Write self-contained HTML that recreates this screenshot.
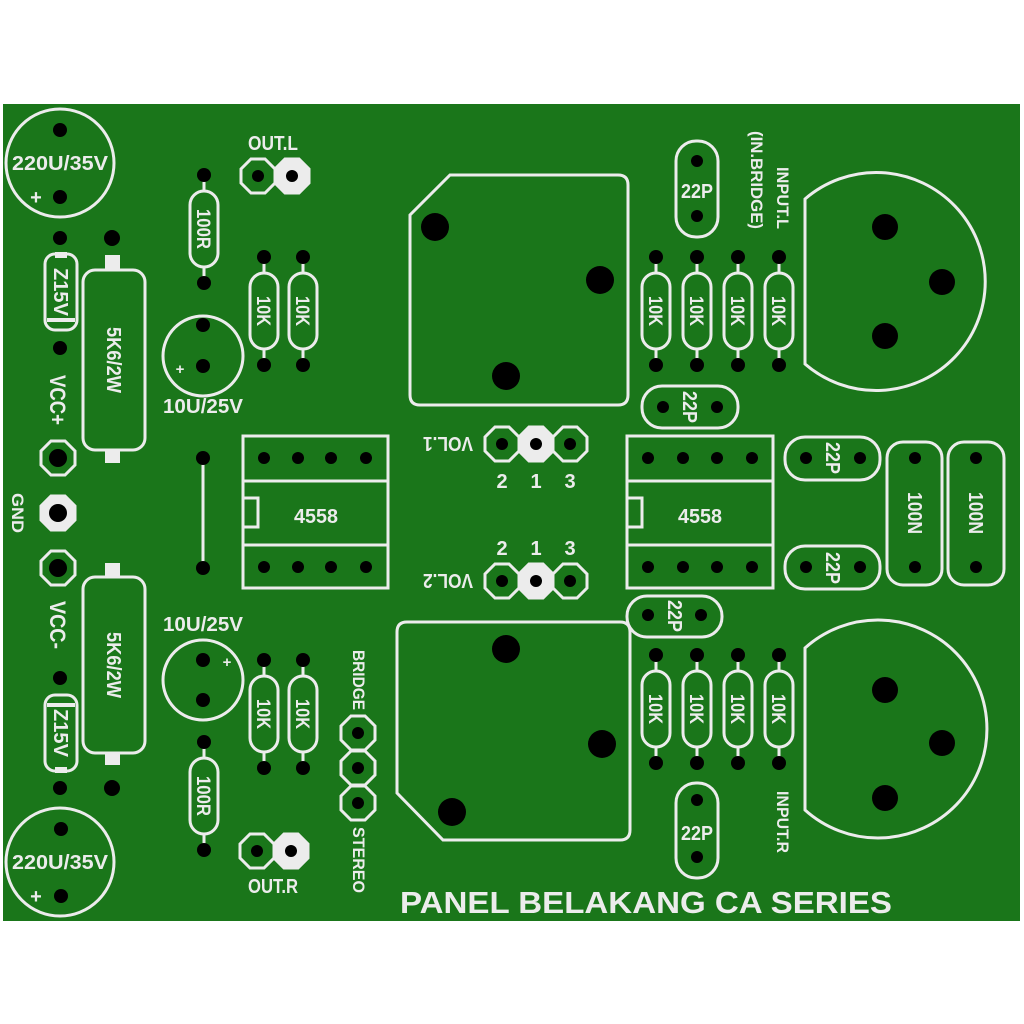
<!DOCTYPE html>
<html><head><meta charset="utf-8"><style>
html,body{margin:0;padding:0;background:#fff}
svg{display:block}
text{font-family:"Liberation Sans",sans-serif;fill:#ececec;font-weight:bold}
</style></head><body>
<svg width="1024" height="1024" viewBox="0 0 1024 1024" xmlns="http://www.w3.org/2000/svg">
<defs>
<g id="res">
 <line x1="0" y1="0" x2="0" y2="108" stroke="#ececec" stroke-width="3"/>
 <rect x="-14" y="16" width="28" height="76" rx="14" fill="#1a761a" stroke="#ececec" stroke-width="3"/>
 <circle cx="0" cy="0" r="7" fill="#000"/><circle cx="0" cy="108" r="7" fill="#000"/>
</g>
<polygon id="oct" points="-7,-17 7,-17 17,-7 17,7 7,17 -7,17 -17,7 -17,-7" fill="none" stroke="#ececec" stroke-width="3"/>
<polygon id="octf" points="-7,-17 7,-17 17,-7 17,7 7,17 -7,17 -17,7 -17,-7" fill="#ececec" stroke="#ececec" stroke-width="3"/>
</defs>
<rect x="3" y="104" width="1017" height="817" fill="#1a761a"/>
<g fill="none" stroke="#ececec" stroke-width="3">
 <circle cx="60" cy="163" r="54"/>
 <circle cx="60" cy="862" r="54"/>
 <circle cx="203" cy="356" r="40"/>
 <circle cx="203" cy="680" r="40"/>
 <rect x="45" y="254" width="32" height="76" rx="10"/>
 <rect x="45" y="695" width="32" height="76" rx="10"/>
 <rect x="83" y="270" width="62" height="180" rx="12"/>
 <rect x="83" y="577" width="62" height="176" rx="12"/>
 <line x1="203" y1="462" x2="203" y2="562"/>
 <rect x="243" y="436" width="145" height="152"/>
 <line x1="243" y1="481" x2="388" y2="481"/><line x1="243" y1="545" x2="388" y2="545"/>
 <rect x="243" y="498" width="15" height="29"/>
 <rect x="627" y="436" width="146" height="152"/>
 <line x1="627" y1="481" x2="773" y2="481"/><line x1="627" y1="545" x2="773" y2="545"/>
 <rect x="627" y="498" width="15" height="29"/>
 <path d="M450,175 H618 Q628,175 628,185 V395 Q628,405 618,405 H420 Q410,405 410,395 V215 Z"/>
 <path d="M407,622 H620 Q630,622 630,632 V830 Q630,840 620,840 H443 L397,793 V632 Q397,622 407,622 Z"/>
 <path d="M805,199 A109,109 0 1 1 805,364 Z"/>
 <path d="M805,648 A109,109 0 1 1 805,810 Z"/>
 <rect x="676" y="141" width="42" height="96" rx="20"/>
 <rect x="676" y="783" width="42" height="95" rx="20"/>
 <rect x="642" y="386" width="96" height="42" rx="20"/>
 <rect x="785" y="437" width="95" height="43" rx="20"/>
 <rect x="785" y="546" width="95" height="43" rx="20"/>
 <rect x="627" y="596" width="95" height="41" rx="20"/>
 <rect x="887" y="442" width="55" height="143" rx="16"/>
 <rect x="948" y="442" width="56" height="143" rx="16"/>
</g>
<g fill="#ececec">
 <rect x="105" y="255" width="15" height="16"/><rect x="105" y="450" width="15" height="13"/>
 <rect x="105" y="563" width="15" height="15"/><rect x="105" y="752" width="15" height="13"/>
 <rect x="55" y="252" width="12" height="6"/><rect x="47" y="318" width="28" height="4"/>
 <rect x="55" y="767" width="12" height="6"/><rect x="47" y="703" width="28" height="4"/>
</g>
<use href="#res" x="204" y="175"/><use href="#res" x="264" y="257"/><use href="#res" x="303" y="257"/>
<use href="#res" x="204" y="742"/><use href="#res" x="264" y="660"/><use href="#res" x="303" y="660"/>
<use href="#res" x="656" y="257"/><use href="#res" x="697" y="257"/><use href="#res" x="738" y="257"/><use href="#res" x="779" y="257"/>
<use href="#res" x="656" y="655"/><use href="#res" x="697" y="655"/><use href="#res" x="738" y="655"/><use href="#res" x="779" y="655"/>
<use href="#oct" x="58" y="458"/><use href="#octf" x="58" y="513"/><use href="#oct" x="58" y="568"/>
<use href="#oct" x="258" y="176"/><use href="#octf" x="292" y="176"/>
<use href="#oct" x="257" y="851"/><use href="#octf" x="291" y="851"/>
<use href="#oct" x="358" y="733"/><use href="#oct" x="358" y="768"/><use href="#oct" x="358" y="803"/>
<use href="#oct" x="502" y="444"/><use href="#octf" x="536" y="444"/><use href="#oct" x="570" y="444"/>
<use href="#oct" x="502" y="581"/><use href="#octf" x="536" y="581"/><use href="#oct" x="570" y="581"/>
<g fill="#000">
 <circle cx="60" cy="130" r="7"/><circle cx="60" cy="197" r="7"/>
 <circle cx="61" cy="829" r="7"/><circle cx="61" cy="896" r="7"/>
 <circle cx="60" cy="238" r="7"/><circle cx="60" cy="348" r="7"/>
 <circle cx="60" cy="678" r="7"/><circle cx="60" cy="788" r="7"/>
 <circle cx="112" cy="238" r="8"/><circle cx="112" cy="788" r="8"/>
 <circle cx="203" cy="325" r="7"/><circle cx="203" cy="366" r="7"/>
 <circle cx="203" cy="660" r="7"/><circle cx="203" cy="700" r="7"/>
 <circle cx="203" cy="458" r="7"/><circle cx="203" cy="568" r="7"/>
 <circle cx="58" cy="458" r="9"/><circle cx="58" cy="513" r="9"/><circle cx="58" cy="568" r="9"/>
 <circle cx="258" cy="176" r="6"/><circle cx="292" cy="176" r="6"/>
 <circle cx="257" cy="851" r="6"/><circle cx="291" cy="851" r="6"/>
 <circle cx="358" cy="733" r="6"/><circle cx="358" cy="768" r="6"/><circle cx="358" cy="803" r="6"/>
 <circle cx="502" cy="444" r="6"/><circle cx="536" cy="444" r="6"/><circle cx="570" cy="444" r="6"/>
 <circle cx="502" cy="581" r="6"/><circle cx="536" cy="581" r="6"/><circle cx="570" cy="581" r="6"/>
 <circle cx="264" cy="458" r="6"/><circle cx="298" cy="458" r="6"/><circle cx="331" cy="458" r="6"/><circle cx="366" cy="458" r="6"/>
 <circle cx="264" cy="567" r="6"/><circle cx="298" cy="567" r="6"/><circle cx="331" cy="567" r="6"/><circle cx="366" cy="567" r="6"/>
 <circle cx="648" cy="458" r="6"/><circle cx="683" cy="458" r="6"/><circle cx="717" cy="458" r="6"/><circle cx="752" cy="458" r="6"/>
 <circle cx="648" cy="567" r="6"/><circle cx="683" cy="567" r="6"/><circle cx="717" cy="567" r="6"/><circle cx="752" cy="567" r="6"/>
 <circle cx="435" cy="227" r="14"/><circle cx="600" cy="280" r="14"/><circle cx="506" cy="376" r="14"/>
 <circle cx="506" cy="649" r="14"/><circle cx="602" cy="744" r="14"/><circle cx="452" cy="812" r="14"/>
 <circle cx="885" cy="227" r="13"/><circle cx="942" cy="282" r="13"/><circle cx="885" cy="336" r="13"/>
 <circle cx="885" cy="690" r="13"/><circle cx="942" cy="743" r="13"/><circle cx="885" cy="798" r="13"/>
 <circle cx="697" cy="161" r="6"/><circle cx="697" cy="216" r="6"/>
 <circle cx="697" cy="800" r="6"/><circle cx="697" cy="857" r="6"/>
 <circle cx="663" cy="407" r="6"/><circle cx="717" cy="407" r="6"/>
 <circle cx="806" cy="458" r="6"/><circle cx="860" cy="458" r="6"/>
 <circle cx="806" cy="567" r="6"/><circle cx="860" cy="567" r="6"/>
 <circle cx="648" cy="615" r="6"/><circle cx="701" cy="615" r="6"/>
 <circle cx="915" cy="458" r="6"/><circle cx="915" cy="567" r="6"/>
 <circle cx="976" cy="458" r="6"/><circle cx="976" cy="567" r="6"/>
</g>
<g font-size="20" text-anchor="middle">
 <text x="60" y="170" textLength="96" lengthAdjust="spacingAndGlyphs">220U/35V</text>
 <text x="60" y="869" textLength="96" lengthAdjust="spacingAndGlyphs">220U/35V</text>
 <text x="36" y="204">+</text>
 <text x="36" y="903">+</text>
 <text x="180" y="374" font-size="15">+</text>
 <text x="227" y="667" font-size="15">+</text>
 <text x="203" y="413" textLength="80" lengthAdjust="spacingAndGlyphs">10U/25V</text>
 <text x="203" y="631" textLength="80" lengthAdjust="spacingAndGlyphs">10U/25V</text>
 <text x="273" y="150" textLength="50" lengthAdjust="spacingAndGlyphs">OUT.L</text>
 <text x="273" y="893" textLength="50" lengthAdjust="spacingAndGlyphs">OUT.R</text>
 <text x="316" y="523" textLength="44" lengthAdjust="spacingAndGlyphs">4558</text>
 <text x="700" y="523" textLength="44" lengthAdjust="spacingAndGlyphs">4558</text>
 <text x="697" y="198" textLength="32" lengthAdjust="spacingAndGlyphs">22P</text>
 <text x="697" y="840" textLength="32" lengthAdjust="spacingAndGlyphs">22P</text>
 <text x="502" y="488">2</text><text x="536" y="488">1</text><text x="570" y="488">3</text>
 <text x="502" y="555">2</text><text x="536" y="555">1</text><text x="570" y="555">3</text>
 <text transform="translate(448,444) rotate(180)" y="7" textLength="50" lengthAdjust="spacingAndGlyphs">VOL.1</text>
 <text transform="translate(448,581) rotate(180)" y="7" textLength="50" lengthAdjust="spacingAndGlyphs">VOL.2</text>
 <text transform="translate(61,292) rotate(90)" y="7" textLength="48" lengthAdjust="spacingAndGlyphs">Z15V</text>
 <text transform="translate(61,733) rotate(90)" y="7" textLength="48" lengthAdjust="spacingAndGlyphs">Z15V</text>
 <text transform="translate(114,360) rotate(90)" y="7" textLength="66" lengthAdjust="spacingAndGlyphs">5K6/2W</text>
 <text transform="translate(114,665) rotate(90)" y="7" textLength="66" lengthAdjust="spacingAndGlyphs">5K6/2W</text>
 <text transform="translate(58,400) rotate(90)" y="8" font-size="22" textLength="50" lengthAdjust="spacingAndGlyphs">VCC+</text>
 <text transform="translate(58,625) rotate(90)" y="8" font-size="22" textLength="48" lengthAdjust="spacingAndGlyphs">VCC-</text>
 <text transform="translate(18,513) rotate(90)" y="6" font-size="17" textLength="40" lengthAdjust="spacingAndGlyphs">GND</text>
 <text transform="translate(204,229) rotate(90)" y="7" font-size="19" textLength="40" lengthAdjust="spacingAndGlyphs">100R</text>
 <text transform="translate(204,796) rotate(90)" y="7" font-size="19" textLength="40" lengthAdjust="spacingAndGlyphs">100R</text>
 <text transform="translate(359,680) rotate(90)" y="6" font-size="17" textLength="60" lengthAdjust="spacingAndGlyphs">BRIDGE</text>
 <text transform="translate(359,860) rotate(90)" y="6" font-size="17" textLength="66" lengthAdjust="spacingAndGlyphs">STEREO</text>
 <text transform="translate(783,198) rotate(90)" y="6" font-size="17" textLength="62" lengthAdjust="spacingAndGlyphs">INPUT.L</text>
 <text transform="translate(757,180) rotate(90)" y="6" font-size="17" textLength="98" lengthAdjust="spacingAndGlyphs">(IN.BRIDGE)</text>
 <text transform="translate(783,822) rotate(90)" y="6" font-size="17" textLength="62" lengthAdjust="spacingAndGlyphs">INPUT.R</text>
 <text transform="translate(690,407) rotate(90)" y="7" textLength="32" lengthAdjust="spacingAndGlyphs">22P</text>
 <text transform="translate(833,458) rotate(90)" y="7" textLength="32" lengthAdjust="spacingAndGlyphs">22P</text>
 <text transform="translate(833,568) rotate(90)" y="7" textLength="32" lengthAdjust="spacingAndGlyphs">22P</text>
 <text transform="translate(675,616) rotate(90)" y="7" textLength="32" lengthAdjust="spacingAndGlyphs">22P</text>
 <text transform="translate(915,513) rotate(90)" y="7" textLength="42" lengthAdjust="spacingAndGlyphs">100N</text>
 <text transform="translate(976,513) rotate(90)" y="7" textLength="42" lengthAdjust="spacingAndGlyphs">100N</text>
</g>
<g font-size="19" text-anchor="middle">
 <text transform="translate(264,311) rotate(90)" y="7" textLength="30" lengthAdjust="spacingAndGlyphs">10K</text>
 <text transform="translate(303,311) rotate(90)" y="7" textLength="30" lengthAdjust="spacingAndGlyphs">10K</text>
 <text transform="translate(264,714) rotate(90)" y="7" textLength="30" lengthAdjust="spacingAndGlyphs">10K</text>
 <text transform="translate(303,714) rotate(90)" y="7" textLength="30" lengthAdjust="spacingAndGlyphs">10K</text>
 <text transform="translate(656,311) rotate(90)" y="7" textLength="30" lengthAdjust="spacingAndGlyphs">10K</text>
 <text transform="translate(697,311) rotate(90)" y="7" textLength="30" lengthAdjust="spacingAndGlyphs">10K</text>
 <text transform="translate(738,311) rotate(90)" y="7" textLength="30" lengthAdjust="spacingAndGlyphs">10K</text>
 <text transform="translate(779,311) rotate(90)" y="7" textLength="30" lengthAdjust="spacingAndGlyphs">10K</text>
 <text transform="translate(656,709) rotate(90)" y="7" textLength="30" lengthAdjust="spacingAndGlyphs">10K</text>
 <text transform="translate(697,709) rotate(90)" y="7" textLength="30" lengthAdjust="spacingAndGlyphs">10K</text>
 <text transform="translate(738,709) rotate(90)" y="7" textLength="30" lengthAdjust="spacingAndGlyphs">10K</text>
 <text transform="translate(779,709) rotate(90)" y="7" textLength="30" lengthAdjust="spacingAndGlyphs">10K</text>
</g>
<text x="646" y="913" text-anchor="middle" font-size="31" textLength="492" lengthAdjust="spacingAndGlyphs">PANEL BELAKANG CA SERIES</text>
</svg>
</body></html>
